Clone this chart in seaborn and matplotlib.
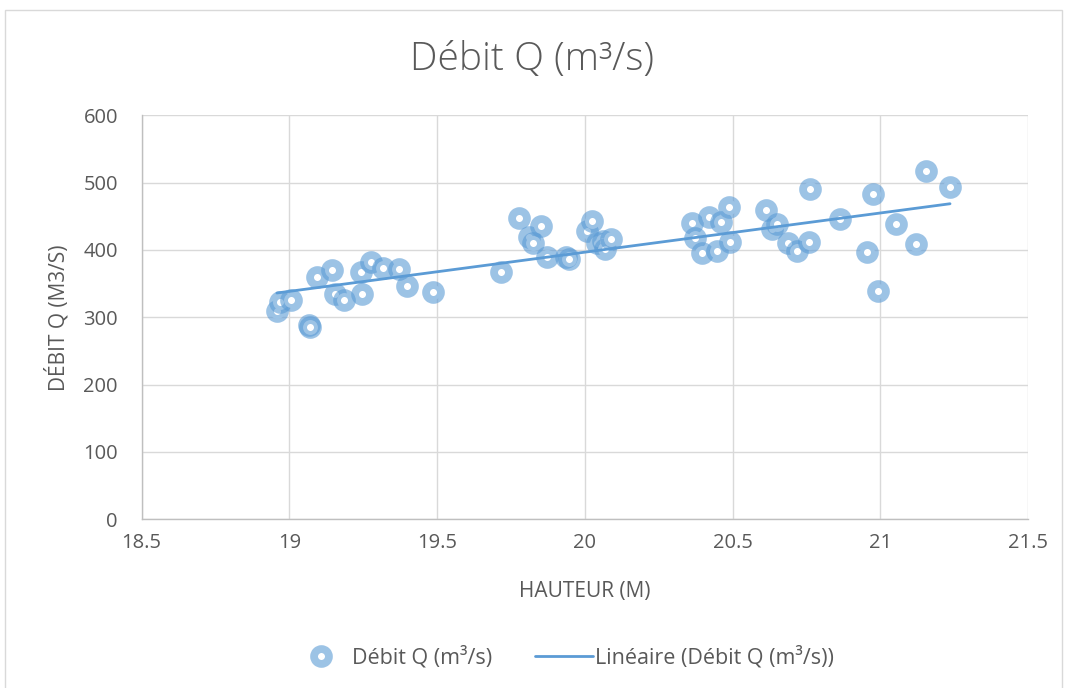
import numpy as np
import pandas as pd
import matplotlib.pyplot as plt
import seaborn as sns
from matplotlib.lines import Line2D
from matplotlib.patches import Rectangle
from matplotlib.ticker import FuncFormatter

# =======================
# DONNEES
# =======================

hauteur = [18.958, 18.970, 19.006, 19.068, 19.071, 19.093, 19.144, 19.155, 19.186,
           19.243, 19.245, 19.276, 19.318, 19.371, 19.397, 19.487, 19.716, 19.779,
           19.812, 19.826, 19.852, 19.872, 19.937, 19.947, 20.008, 20.025, 20.042,
           20.060, 20.068, 20.087, 20.362, 20.372, 20.396, 20.420, 20.447, 20.460,
           20.487, 20.492, 20.612, 20.632, 20.649, 20.689, 20.719, 20.759, 20.762,
           20.864, 20.954, 20.974, 20.993, 21.052, 21.121, 21.154, 21.236]
debit = [310, 322, 326, 288, 286, 360, 370, 334, 326,
         368, 335, 382, 373, 372, 347, 337, 367, 448,
         420, 411, 436, 389, 390, 386, 428, 443, 411,
         414, 401, 416, 440, 418, 396, 449, 399, 442,
         464, 412, 460, 431, 438, 410, 398, 412, 491,
         446, 397, 483, 339, 439, 409, 518, 494]

x_ticks = [18.5, 19, 19.5, 20, 20.5, 21, 21.5]
y_ticks = [0, 100, 200, 300, 400, 500, 600]

data = pd.DataFrame({'Hauteur': hauteur, 'Debit': debit})

# =======================
# STYLE
# =======================

sns.set_theme(style="white")
plt.rcParams['font.family'] = ['Open Sans', 'DejaVu Sans']

bleu = '#5B9BD5'
anneau = (0.357, 0.608, 0.835, 0.6)
gris_texte = '#595959'
gris_grille = '#D9D9D9'

fig = plt.figure(figsize=(10.65, 6.88), dpi=100)
ax = fig.add_axes([0.1329, 0.2453, 0.8324, 0.5870])

# nuage de points + droite de tendance
sns.scatterplot(data=data, x='Hauteur', y='Debit', ax=ax, marker='o', s=115,
                facecolor='white', edgecolor=anneau, linewidth=5.6, zorder=3)
sns.regplot(data=data, x='Hauteur', y='Debit', ax=ax, scatter=False, ci=None,
            color=bleu, line_kws=dict(lw=2.0, zorder=4), truncate=True)

ax.set_xlim(18.5, 21.5)
ax.set_ylim(0, 600)
ax.set_xticks(x_ticks)
ax.set_yticks(y_ticks)
ax.xaxis.set_major_formatter(FuncFormatter(lambda v, p: f'{v:g}'))
ax.grid(True, color=gris_grille, lw=1.0)
ax.set_axisbelow(True)
for cote in ['top', 'right']:
    ax.spines[cote].set_visible(False)
for cote in ['left', 'bottom']:
    ax.spines[cote].set_color('#BFBFBF')
    ax.spines[cote].set_linewidth(1.0)
ax.tick_params(axis='both', length=0, labelsize=14.5, labelcolor=gris_texte)
ax.tick_params(axis='y', pad=17)
ax.tick_params(axis='x', pad=10)

ax.set_xlabel('HAUTEUR (M)', fontsize=15, color=gris_texte, labelpad=20)
ax.set_ylabel('DÉBIT Q (M3/S)', fontsize=15, color=gris_texte, labelpad=10)

fig.text(0.5, 1 - 60 / 688, 'Débit Q (m³/s)', ha='center', va='center',
         fontsize=28, color=gris_texte, fontweight='light')

# legende
poignees = [
    Line2D([], [], ls='none', marker='o', markersize=10.7, markerfacecolor='white',
           markeredgecolor=anneau, markeredgewidth=5.6),
    Line2D([], [], color=bleu, lw=2.0),
]
fig.legend(poignees, ['Débit Q (m³/s)', 'Linéaire (Débit Q (m³/s))'],
           loc='center', bbox_to_anchor=(563 / 1065, 1 - 657 / 688), ncol=2,
           frameon=False, fontsize=15.5, labelcolor=gris_texte, handlelength=2.7,
           handletextpad=0.1, columnspacing=2.0)

# cadre du graphique
fig.patches.append(Rectangle((5 / 1065, -0.05), 1057 / 1065, 1.05 - 10 / 688,
                             transform=fig.transFigure, fill=False,
                             edgecolor=gris_grille, lw=1.0))

fig.savefig('out.png', dpi=100)
